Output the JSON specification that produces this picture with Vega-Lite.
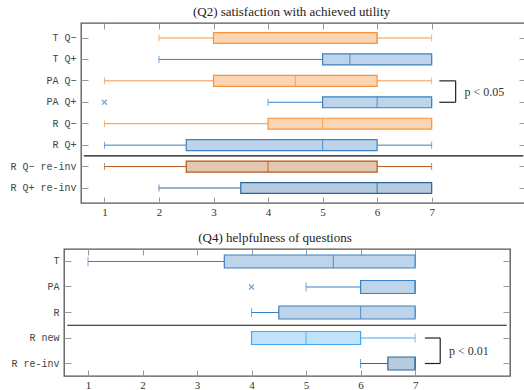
{
  "$schema": "https://vega.github.io/schema/vega-lite/v6.json",
  "padding": {"left": 9, "top": 4, "right": 0, "bottom": 0},
  "spacing": 12,
  "config": {
    "view": {"stroke": "#555", "strokeWidth": 1.3},
    "font": "Liberation Serif",
    "title": {"font": "Liberation Serif", "fontSize": 13, "fontWeight": "normal", "color": "#222", "offset": 4},
    "axis": {"domain": false, "grid": false, "tickColor": "#999", "tickWidth": 1, "labelColor": "#333"},
    "axisX": {"tickSize": -6, "labelPadding": 9, "labelFont": "Liberation Serif", "labelFontSize": 11, "format": "d"},
    "axisY": {"tickSize": -7, "labelPadding": 12, "labelFont": "Liberation Mono", "labelFontSize": 10, "labelColor": "#444"}
  },
  "datasets": {
    "q2": [
      {"cond": "T Q−", "kind": "Q−", "lo": 2, "q1": 3, "med": 6, "q3": 6, "hi": 7, "out": null},
      {"cond": "T Q+", "kind": "Q+", "lo": 2, "q1": 5, "med": 5.5, "q3": 7, "hi": 7, "out": null},
      {"cond": "PA Q−", "kind": "Q−", "lo": 1, "q1": 3, "med": 4.5, "q3": 6, "hi": 7, "out": null},
      {"cond": "PA Q+", "kind": "Q+", "lo": 4, "q1": 5, "med": 6, "q3": 7, "hi": 7, "out": 1},
      {"cond": "R Q−", "kind": "Q−", "lo": 1, "q1": 4, "med": 5, "q3": 7, "hi": 7, "out": null},
      {"cond": "R Q+", "kind": "Q+", "lo": 1, "q1": 2.5, "med": 5, "q3": 6, "hi": 7, "out": null},
      {"cond": "R Q− re-inv", "kind": "Q− re-inv", "lo": 1, "q1": 2.5, "med": 4, "q3": 6, "hi": 7, "out": null},
      {"cond": "R Q+ re-inv", "kind": "Q+ re-inv", "lo": 2, "q1": 3.5, "med": 6, "q3": 7, "hi": 7, "out": null}
    ],
    "q4": [
      {"cond": "T", "kind": "base", "lo": 1, "q1": 3.5, "med": 5.5, "q3": 7, "hi": 7, "out": null},
      {"cond": "PA", "kind": "base", "lo": 5, "q1": 6, "med": 7, "q3": 7, "hi": 7, "out": 4},
      {"cond": "R", "kind": "base", "lo": 4, "q1": 4.5, "med": 6, "q3": 7, "hi": 7, "out": null},
      {"cond": "R new", "kind": "new", "lo": 4, "q1": 4, "med": 5, "q3": 6, "hi": 7, "out": null},
      {"cond": "R re-inv", "kind": "re-inv", "lo": 6, "q1": 6.5, "med": 7, "q3": 7, "hi": 7, "out": null}
    ],
    "sep2": [{"before": "R Q− re-inv"}],
    "sep4": [{"before": "R new"}],
    "sig2": [{"from": "PA Q−", "to": "PA Q+", "x0": 7.14, "x1": 7.44, "xt": 7.6, "label": "p < 0.05"}],
    "sig4": [{"from": "R new", "to": "R re-inv", "x0": 7.18, "x1": 7.46, "xt": 7.62, "label": "p < 0.01"}]
  },
  "vconcat": [
    {"spacing": -59, "hconcat": [
    {"width": 1, "height": 180, "data": {"values": [{}]}, "mark": {"type": "point", "opacity": 0}, "view": {"stroke": null}},
    {
      "width": 445,
      "height": 180,
      "title": {"text": "(Q2) satisfaction with achieved utility", "dx": -12},
      "layer": [
        {
          "data": {"name": "q2"},
          "encoding": {
            "y": {"field": "cond", "type": "nominal", "sort": null, "title": null,
                  "scale": {"domain": ["T Q−", "T Q+", "PA Q−", "PA Q+", "R Q−", "R Q+", "R Q− re-inv", "R Q+ re-inv"], "paddingInner": 0.49, "paddingOuter": 0.445}}
          },
          "layer": [
            {"mark": {"type": "rule", "strokeWidth": 1},
             "encoding": {"x": {"field": "lo", "type": "quantitative", "title": null, "scale": {"domain": [0.57, 8.73], "nice": false, "zero": false}, "axis": {"values": [1, 2, 3, 4, 5, 6, 7]}},
                          "x2": {"field": "q1"},
                          "color": {"field": "kind", "type": "nominal", "legend": null, "scale": {"domain": ["Q−", "Q+", "Q− re-inv", "Q+ re-inv", "base", "new", "re-inv"], "range": ["#f7953d", "#3b82c0", "#b0581c", "#2a69a0", "#3b82c0", "#45a6ee", "#2a69a0"]}}}},
            {"mark": {"type": "rule", "strokeWidth": 1},
             "encoding": {"x": {"field": "q3", "type": "quantitative", "title": null}, "x2": {"field": "hi"},
                          "color": {"field": "kind", "type": "nominal", "legend": null}}},
            {"mark": {"type": "tick", "orient": "vertical", "size": 7, "thickness": 1},
             "encoding": {"x": {"field": "lo", "type": "quantitative", "title": null}, "color": {"field": "kind", "type": "nominal", "legend": null}}},
            {"mark": {"type": "tick", "orient": "vertical", "size": 7, "thickness": 1},
             "encoding": {"x": {"field": "hi", "type": "quantitative", "title": null}, "color": {"field": "kind", "type": "nominal", "legend": null}}},
            {"mark": {"type": "bar", "strokeWidth": 1.2},
             "encoding": {"x": {"field": "q1", "type": "quantitative", "title": null}, "x2": {"field": "q3"},
                          "fill": {"field": "kind", "type": "nominal", "legend": null, "scale": {"domain": ["Q−", "Q+", "Q− re-inv", "Q+ re-inv", "base", "new", "re-inv"], "range": ["#fdd5b3", "#bdd4ea", "#e4c7ae", "#b6cbde", "#bdd4ea", "#bfe3fb", "#b6cbde"]}},
                          "stroke": {"field": "kind", "type": "nominal", "legend": null, "scale": {"domain": ["Q−", "Q+", "Q− re-inv", "Q+ re-inv", "base", "new", "re-inv"], "range": ["#f7953d", "#3b82c0", "#b0581c", "#2a69a0", "#3b82c0", "#45a6ee", "#2a69a0"]}}}},
            {"mark": {"type": "tick", "orient": "vertical", "size": 11, "thickness": 1.2},
             "encoding": {"x": {"field": "med", "type": "quantitative", "title": null}, "color": {"field": "kind", "type": "nominal", "legend": null}}},
            {"transform": [{"filter": "datum.out != null"}],
             "mark": {"type": "point", "filled": false, "shape": "M-1,-1L1,1M1,-1L-1,1", "size": 25, "strokeWidth": 1.2},
             "encoding": {"x": {"field": "out", "type": "quantitative", "title": null}, "color": {"field": "kind", "type": "nominal", "legend": null}}},
            {"data": {"name": "sep2"},
             "mark": {"type": "rule", "color": "#111", "strokeWidth": 1.2, "yOffset": -10.71},
             "encoding": {"y": {"field": "before", "type": "nominal", "title": null}, "x": {"datum": 0.62}, "x2": {"datum": 8.68}}},
            {"data": {"name": "sig2"},
             "mark": {"type": "rule", "color": "#222", "strokeWidth": 1.2},
             "encoding": {"y": {"field": "from", "type": "nominal", "title": null}, "x": {"field": "x0", "type": "quantitative", "title": null}, "x2": {"field": "x1"}}},
            {"data": {"name": "sig2"},
             "mark": {"type": "rule", "color": "#222", "strokeWidth": 1.2},
             "encoding": {"y": {"field": "to", "type": "nominal", "title": null}, "x": {"field": "x0", "type": "quantitative", "title": null}, "x2": {"field": "x1"}}},
            {"data": {"name": "sig2"},
             "mark": {"type": "rule", "color": "#222", "strokeWidth": 1.2},
             "encoding": {"y": {"field": "from", "type": "nominal", "title": null}, "y2": {"field": "to"}, "x": {"field": "x1", "type": "quantitative", "title": null}}},
            {"data": {"name": "sig2"},
             "mark": {"type": "text", "align": "left", "baseline": "middle", "dy": 10.71, "font": "Liberation Serif", "fontSize": 12, "color": "#333"},
             "encoding": {"y": {"field": "from", "type": "nominal", "title": null}, "x": {"field": "xt", "type": "quantitative", "title": null}, "text": {"field": "label"}}}
          ]
        },
        {
          "data": {"name": "q2"},
          "mark": {"type": "tick", "opacity": 0},
          "encoding": {
            "x": {"field": "lo", "type": "quantitative", "title": null, "axis": {"orient": "top", "labels": false, "values": [1, 2, 3, 4, 5, 6, 7]}},
            "y": {"field": "cond", "type": "nominal", "title": null, "axis": {"orient": "right", "labels": false}}
          }
        }
      ],
      "resolve": {"axis": {"x": "independent", "y": "independent"}}
    }
    ]},
    {
      "width": 446,
      "height": 127,
      "title": {"text": "(Q4) helpfulness of questions", "dx": -12},
      "layer": [
        {
          "data": {"name": "q4"},
          "encoding": {
            "y": {"field": "cond", "type": "nominal", "sort": null, "title": null,
                  "axis": {"minExtent": 51},
                  "scale": {"domain": ["T", "PA", "R", "R new", "R re-inv"], "paddingInner": 0.49, "paddingOuter": 0.235}}
          },
          "layer": [
            {"mark": {"type": "rule", "strokeWidth": 1},
             "encoding": {"x": {"field": "lo", "type": "quantitative", "title": null, "scale": {"domain": [0.56, 8.74], "nice": false, "zero": false}, "axis": {"values": [1, 2, 3, 4, 5, 6, 7]}},
                          "x2": {"field": "q1"},
                          "color": {"field": "kind", "type": "nominal", "legend": null, "scale": {"domain": ["Q−", "Q+", "Q− re-inv", "Q+ re-inv", "base", "new", "re-inv"], "range": ["#f7953d", "#3b82c0", "#b0581c", "#2a69a0", "#3b82c0", "#45a6ee", "#2a69a0"]}}}},
            {"mark": {"type": "rule", "strokeWidth": 1},
             "encoding": {"x": {"field": "q3", "type": "quantitative", "title": null}, "x2": {"field": "hi"},
                          "color": {"field": "kind", "type": "nominal", "legend": null}}},
            {"mark": {"type": "tick", "orient": "vertical", "size": 9, "thickness": 1},
             "encoding": {"x": {"field": "lo", "type": "quantitative", "title": null}, "color": {"field": "kind", "type": "nominal", "legend": null}}},
            {"mark": {"type": "tick", "orient": "vertical", "size": 9, "thickness": 1},
             "encoding": {"x": {"field": "hi", "type": "quantitative", "title": null}, "color": {"field": "kind", "type": "nominal", "legend": null}}},
            {"mark": {"type": "bar", "strokeWidth": 1.2},
             "encoding": {"x": {"field": "q1", "type": "quantitative", "title": null}, "x2": {"field": "q3"},
                          "fill": {"field": "kind", "type": "nominal", "legend": null, "scale": {"domain": ["Q−", "Q+", "Q− re-inv", "Q+ re-inv", "base", "new", "re-inv"], "range": ["#fdd5b3", "#bdd4ea", "#e4c7ae", "#b6cbde", "#bdd4ea", "#bfe3fb", "#b6cbde"]}},
                          "stroke": {"field": "kind", "type": "nominal", "legend": null, "scale": {"domain": ["Q−", "Q+", "Q− re-inv", "Q+ re-inv", "base", "new", "re-inv"], "range": ["#f7953d", "#3b82c0", "#b0581c", "#2a69a0", "#3b82c0", "#45a6ee", "#2a69a0"]}}}},
            {"mark": {"type": "tick", "orient": "vertical", "size": 13, "thickness": 1.2},
             "encoding": {"x": {"field": "med", "type": "quantitative", "title": null}, "color": {"field": "kind", "type": "nominal", "legend": null}}},
            {"transform": [{"filter": "datum.out != null"}],
             "mark": {"type": "point", "filled": false, "shape": "M-1,-1L1,1M1,-1L-1,1", "size": 25, "strokeWidth": 1.2},
             "encoding": {"x": {"field": "out", "type": "quantitative", "title": null}, "color": {"field": "kind", "type": "nominal", "legend": null}}},
            {"data": {"name": "sep4"},
             "mark": {"type": "rule", "color": "#111", "strokeWidth": 1.2, "yOffset": -12.75},
             "encoding": {"y": {"field": "before", "type": "nominal", "title": null}, "x": {"datum": 0.62}, "x2": {"datum": 8.68}}},
            {"data": {"name": "sig4"},
             "mark": {"type": "rule", "color": "#222", "strokeWidth": 1.2},
             "encoding": {"y": {"field": "from", "type": "nominal", "title": null}, "x": {"field": "x0", "type": "quantitative", "title": null}, "x2": {"field": "x1"}}},
            {"data": {"name": "sig4"},
             "mark": {"type": "rule", "color": "#222", "strokeWidth": 1.2},
             "encoding": {"y": {"field": "to", "type": "nominal", "title": null}, "x": {"field": "x0", "type": "quantitative", "title": null}, "x2": {"field": "x1"}}},
            {"data": {"name": "sig4"},
             "mark": {"type": "rule", "color": "#222", "strokeWidth": 1.2},
             "encoding": {"y": {"field": "from", "type": "nominal", "title": null}, "y2": {"field": "to"}, "x": {"field": "x1", "type": "quantitative", "title": null}}},
            {"data": {"name": "sig4"},
             "mark": {"type": "text", "align": "left", "baseline": "middle", "dy": 12.75, "font": "Liberation Serif", "fontSize": 12, "color": "#333"},
             "encoding": {"y": {"field": "from", "type": "nominal", "title": null}, "x": {"field": "xt", "type": "quantitative", "title": null}, "text": {"field": "label"}}}
          ]
        },
        {
          "data": {"name": "q4"},
          "mark": {"type": "tick", "opacity": 0},
          "encoding": {
            "x": {"field": "lo", "type": "quantitative", "title": null, "axis": {"orient": "top", "labels": false, "values": [1, 2, 3, 4, 5, 6, 7]}},
            "y": {"field": "cond", "type": "nominal", "title": null, "axis": {"orient": "right", "labels": false}}
          }
        }
      ],
      "resolve": {"axis": {"x": "independent", "y": "independent"}}
    }
  ]
}
